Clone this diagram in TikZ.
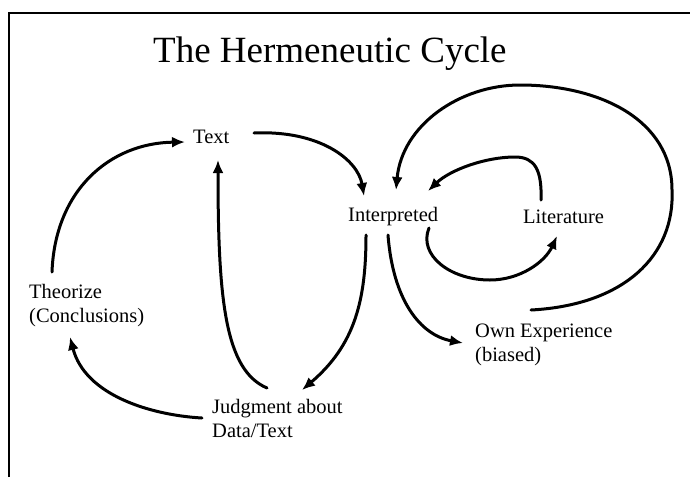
\documentclass[tikz,border=0pt]{standalone}
\usepackage{fontspec}
\setmainfont{Liberation Serif}
\usetikzlibrary{arrows.meta,calc}
\begin{document}
\begin{tikzpicture}[x=1pt,y=-1pt,
  lbl/.style={inner sep=0pt, anchor=base west, font=\fontsize{20.5}{24}\selectfont, align=left},
  ttl/.style={inner sep=0pt, anchor=base west, font=\fontsize{37}{44}\selectfont},
  arr/.style={line width=3pt, line cap=round, -{Latex[length=13pt,width=11pt]}},
  frame/.style={line width=2.2pt}]
\useasboundingbox (0,0) rectangle (690,477);
\draw[frame] (9,477) -- (9,13) -- (690,13);
\node[ttl] (title) at (153,62) {The Hermeneutic Cycle};
\node[lbl] (text) at (193,143) {Text};
\node[lbl] (interp) at (348,221) {Interpreted};
\node[lbl] (lit) at (523,223) {Literature};
% multi-line nodes: base anchor sits on the last line
\node[lbl] (theo) at (29,322) {Theorize\\(Conclusions)};
\node[lbl] (judg) at (212,437) {Judgment about\\Data/Text};
\node[lbl] (own) at (475,361) {Own Experience\\(biased)};
% Theorize -> Text
\draw[arr] ($(theo.base west)+(23,-50)$) .. controls (55,190) and (110,143) .. ($(text.base west)+(-8,-1)$);
% Text -> Interpreted
\draw[arr] ($(text.base west)+(61,-10)$) .. controls (320,130) and (358,160) .. ($(interp.base west)+(16,-25)$);
% Own Experience -> Interpreted (big loop)
\draw[arr] ($(own.base west)+(56,-51)$) .. controls (625,305) and (675,255) .. (672,190)
  .. controls (672,120) and (600,85) .. (520,85)
  .. controls (460,85) and (402,125) .. ($(interp.base west)+(48,-31)$);
% Literature -> Interpreted
\draw[arr] ($(lit.base west)+(18,-23)$) .. controls (542,170) and (535,157) .. (515,157)
  .. controls (485,157) and (450,170) .. ($(interp.base west)+(80,-30)$);
% Interpreted -> Literature
\draw[arr] ($(interp.base west)+(81,7)$) .. controls (418,255) and (450,280) .. (490,280)
  .. controls (520,280) and (545,262) .. ($(lit.base west)+(34,13)$);
% Interpreted -> Own Experience
\draw[arr] ($(interp.base west)+(40,14)$) .. controls (393,300) and (420,335) .. ($(own.base west)+(-12,-18)$);
% Interpreted -> Judgment
\draw[arr] ($(interp.base west)+(18,14)$) .. controls (366,300) and (355,345) .. ($(judg.base west)+(90,-47)$);
% Judgment -> Text
\draw[arr] ($(judg.base west)+(55,-49)$) .. controls (225,370) and (218,300) .. ($(text.base west)+(25,17)$);
% Judgment -> Theorize
\draw[arr] ($(judg.base west)+(-10,-19)$) .. controls (150,415) and (85,395) .. ($(theo.base west)+(41,15)$);
\end{tikzpicture}
\end{document}
